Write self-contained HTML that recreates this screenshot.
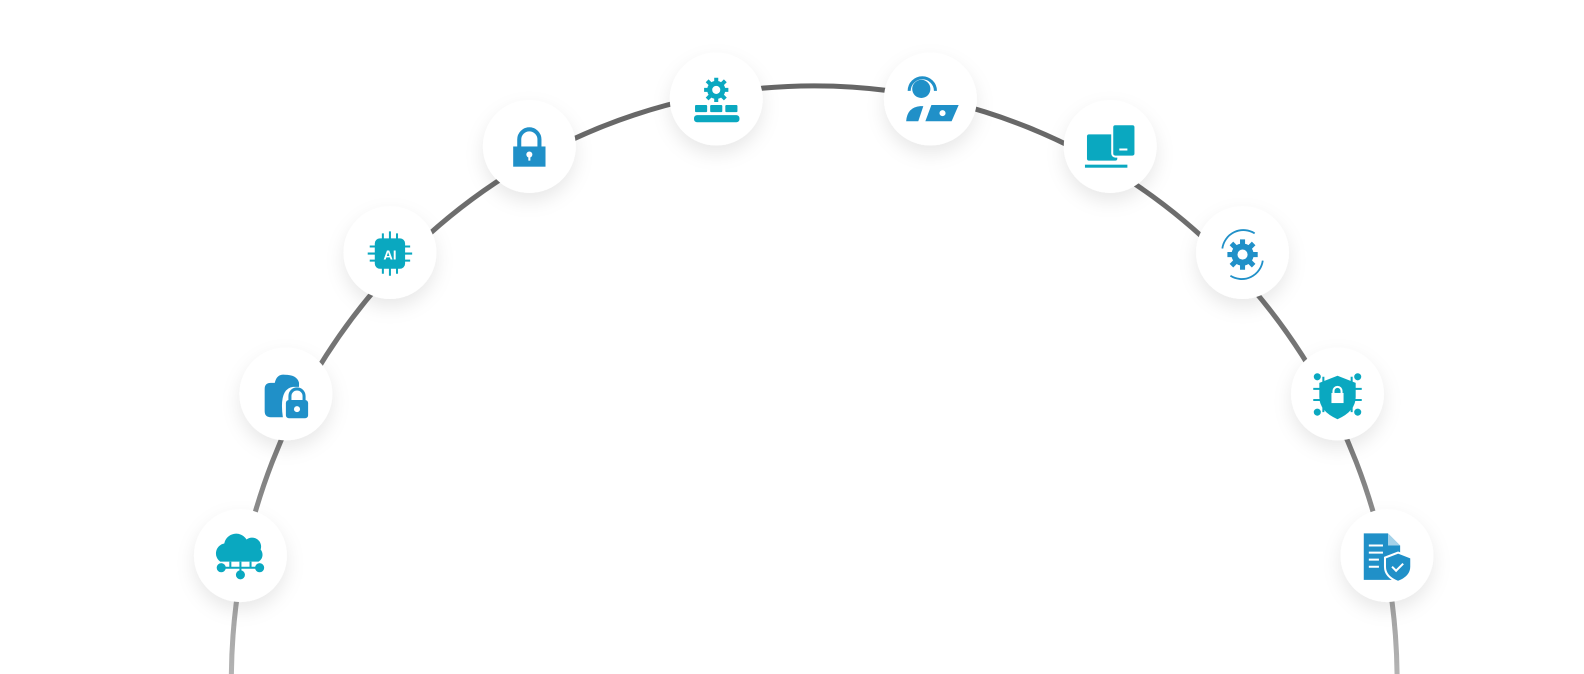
<!DOCTYPE html>
<html><head><meta charset="utf-8"><style>
html,body{margin:0;padding:0;background:#fff;width:1584px;height:674px;overflow:hidden}
</style></head><body>
<svg width="1584" height="674" viewBox="0 0 1584 674" xmlns="http://www.w3.org/2000/svg">
<defs>
<linearGradient id="g" x1="0" y1="80" x2="0" y2="674" gradientUnits="userSpaceOnUse">
<stop offset="0" stop-color="#666"/><stop offset="0.6" stop-color="#7a7a7a"/><stop offset="1" stop-color="#b5b5b5"/>
</linearGradient>
<filter id="sh" x="-60%" y="-60%" width="220%" height="220%"><feDropShadow dx="0" dy="8" stdDeviation="9" flood-color="#000" flood-opacity="0.09"/></filter>
</defs>
<g transform="scale(1.0102)">
<path d="M229,674 A577,589 0 0 1 1383,674" fill="none" stroke="url(#g)" stroke-width="5"/>
<g filter="url(#sh)" fill="#fff">
<circle cx="238" cy="550" r="46"/><circle cx="283" cy="390" r="46"/><circle cx="386" cy="250" r="46"/>
<circle cx="524" cy="145" r="46"/><circle cx="709" cy="98" r="46"/><circle cx="921" cy="98" r="46"/>
<circle cx="1099" cy="145" r="46"/><circle cx="1230" cy="250" r="46"/><circle cx="1324" cy="390" r="46"/>
<circle cx="1373" cy="550" r="46"/>
</g>
<g fill="#0aa8c0" stroke="#0aa8c0">
<path d="M218,556 a10,10 0 0 1 4,-18 a12,12 0 0 1 22,-4 a9,9 0 0 1 14,10 a8,8 0 0 1 -2,12z" stroke="none"/>
<line x1="238" y1="556" x2="238" y2="568" stroke-width="2"/><line x1="228" y1="556" x2="228" y2="562" stroke-width="2"/><line x1="248" y1="556" x2="248" y2="562" stroke-width="2"/>
<line x1="220" y1="562" x2="256" y2="562" stroke-width="2"/>
<circle cx="238" cy="569" r="4"/><circle cx="219" cy="562" r="4"/><circle cx="257" cy="562" r="4"/>
</g>
<g fill="#2090c8">
<path d="M262,385 q0,-6 6,-6 h4 q2,-9 10,-8 q12,0 14,8 v4 h-6 q-14,2 -10,30 h-12 q-6,0 -6,-6z"/>
<rect x="283" y="396" width="22" height="18" rx="3"/>
<path d="M287,397 v-5 a7,7 0 0 1 14,0 v5" fill="none" stroke="#2090c8" stroke-width="3"/>
<circle cx="294" cy="405" r="3" fill="#fff"/>
</g>
<g stroke="#0aa8c0" stroke-width="2">
<rect x="372" y="237" width="28" height="28" rx="4" fill="#0aa8c0"/>
<path d="M379,231v6M386,229v8M393,231v6M379,265v6M386,265v8M393,265v6M366,244h6M364,251h8M366,258h6M400,244h6M400,251h8M400,258h6"/>
<text x="386" y="257" font-family="Liberation Sans,sans-serif" font-size="13" font-weight="bold" fill="#fff" stroke="none" text-anchor="middle">AI</text>
</g>
<g fill="#2090c8">
<path d="M514,146 v-8 a10,10 0 0 1 20,0 v8" fill="none" stroke="#2090c8" stroke-width="4"/>
<rect x="508" y="145" width="32" height="20"/>
<circle cx="524" cy="153" r="3" fill="#fff"/><rect x="523" y="153" width="2" height="6" fill="#fff"/>
</g>
<g fill="#0aa8c0">
<circle cx="709" cy="89" r="9"/><circle cx="709" cy="89" r="4" fill="#fff"/>
<path d="M709,77v4M709,97v4M697,89h4M717,89h4M700,80l3,3M715,95l3,3M700,98l3,-3M715,83l3,-3" stroke="#0aa8c0" stroke-width="4"/>
<rect x="688" y="104" width="12" height="7" rx="1"/><rect x="703" y="104" width="12" height="7" rx="1"/><rect x="718" y="104" width="12" height="7" rx="1"/>
<rect x="687" y="114" width="45" height="7" rx="3"/>
</g>
<g fill="#2090c8">
<circle cx="912" cy="88" r="9"/>
<path d="M900,90 a13,13 0 0 1 26,0" fill="none" stroke="#2090c8" stroke-width="3"/>
<path d="M897,120 q1,-14 14,-15 l3,0 l-5,15z"/>
<path d="M922,104 h27 l-7,16 h-26z"/><circle cx="933" cy="112" r="3" fill="#fff"/>
</g>
<g fill="#0aa8c0">
<rect x="1076" y="133" width="30" height="26" rx="2"/>
<rect x="1074" y="163" width="42" height="3"/>
<rect x="1101" y="123" width="23" height="32" rx="3" stroke="#fff" stroke-width="2"/>
<rect x="1108" y="147" width="8" height="2" fill="#fff"/>
</g>
<g fill="#2090c8" stroke="#2090c8">
<circle cx="1230" cy="252" r="11" stroke="none"/>
<path d="M1230,237v30M1215,252h30M1219,241l22,22M1219,263l22,-22" stroke-width="5"/>
<circle cx="1230" cy="252" r="5" fill="#fff" stroke="none"/>
<path d="M1210,246 a21,21 0 0 1 32,-15 M1250,258 a21,21 0 0 1 -32,15" fill="none" stroke-width="1.8"/>
</g>
<g fill="#0aa8c0" stroke="#0aa8c0">
<path d="M1324,372 l18,7 v14 q0,14 -18,22 q-18,-8 -18,-22 v-14z" stroke="none"/>
<path d="M1300,385h8M1300,396h8M1340,385h8M1340,396h8M1310,373v8M1338,373v8M1310,400v8M1338,400v8" stroke-width="2"/>
<circle cx="1304" cy="373" r="3"/><circle cx="1344" cy="373" r="3"/><circle cx="1304" cy="408" r="3"/><circle cx="1344" cy="408" r="3"/>
<rect x="1318" y="389" width="12" height="10" fill="#fff" stroke="none"/>
<path d="M1320,390v-3a4,4 0 0 1 8,0v3" fill="none" stroke="#fff" stroke-width="2"/>
</g>
<g fill="#2090c8">
<path d="M1350,528 h24 l12,12 v34 h-36z"/>
<path d="M1374,528 v12 h12" fill="#fff" opacity="0.6"/>
<path d="M1355,540h14M1355,547h14M1355,554h10M1355,561h10" stroke="#fff" stroke-width="2"/>
<path d="M1384,547 l13,5 v9 q0,10 -13,15 q-13,-5 -13,-15 v-9z" stroke="#fff" stroke-width="2"/>
<path d="M1378,561 l4,4 l7,-7" fill="none" stroke="#fff" stroke-width="2"/>
</g>
</g>
</svg>
</body></html>
